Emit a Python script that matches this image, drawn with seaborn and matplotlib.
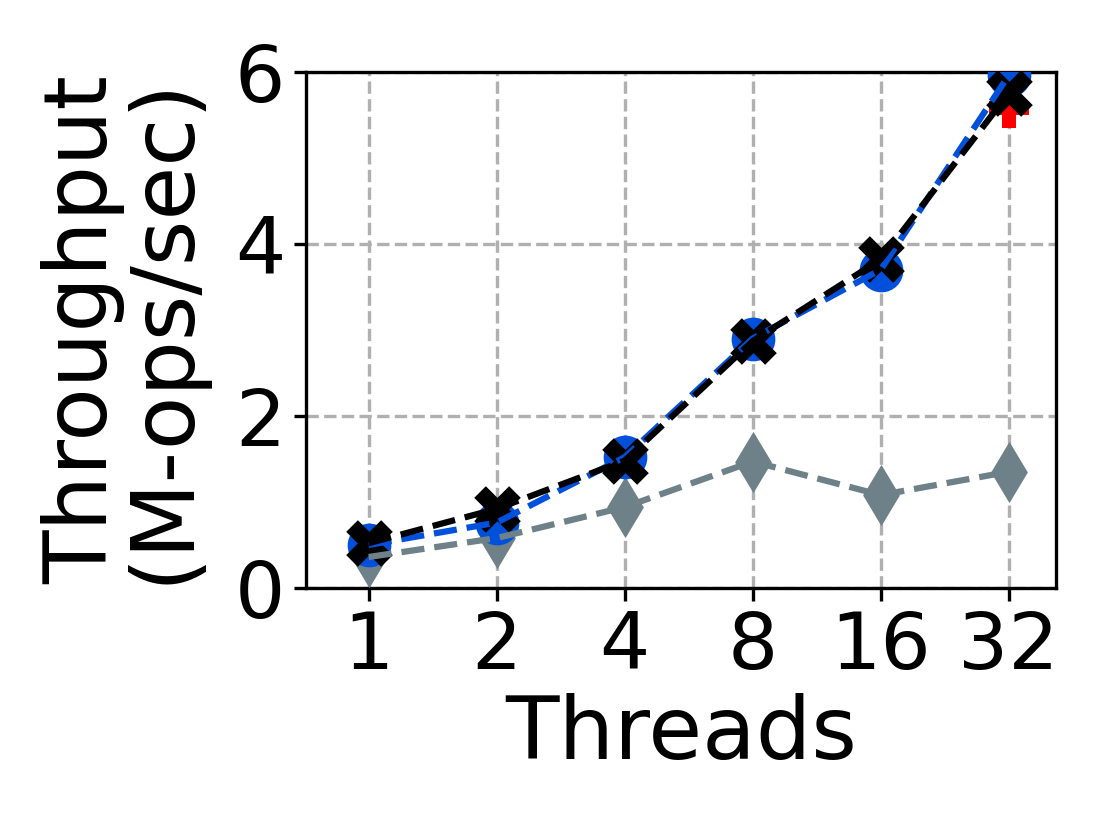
import numpy as np
import pandas as pd
import matplotlib
matplotlib.use("Agg")
import matplotlib.pyplot as plt
import seaborn as sns

threads = [1, 2, 4, 8, 16, 32]
blue_vals = [0.50, 0.76, 1.52, 2.90, 3.70, 5.96]
black_vals = [0.52, 0.92, 1.48, 2.87, 3.82, 5.75]
red_vals = [0.50, 0.76, 1.52, 2.90, 3.70, 5.58]
gray_vals = [0.36, 0.58, 0.94, 1.47, 1.08, 1.35]
yticks = [0, 2, 4, 6]

sns.set_style("white")
plt.rcParams['font.family'] = ['DejaVu Sans']
plt.rcParams['text.color'] = 'black'
plt.rcParams['axes.labelcolor'] = 'black'
plt.rcParams['xtick.color'] = 'black'
plt.rcParams['ytick.color'] = 'black'

pos = np.log2(threads)
series = [
    # name, values, color, marker, marker size (pt^2)
    ("gray", gray_vals, "#6e8088", "d", 108),
    ("red", red_vals, "#ff0000", "P", 95),
    ("blue", blue_vals, "#0050dc", "o", 110),
    ("black", black_vals, "#000000", "X", 125),
]

fig, ax = plt.subplots(figsize=(3.69, 2.767), dpi=300)
fig.subplots_adjust(left=0.2764, right=0.954, top=0.9133, bottom=0.2916)

# markers first, lines on top of them
for name, vals, color, marker, size in series:
    df = pd.DataFrame({"x": pos, "y": vals})
    sns.scatterplot(data=df, x="x", y="y", color=color, marker=marker, s=size,
                    linewidth=0, ax=ax, zorder=3)

# red line sits hidden under the others in the original, so only its markers show
for name in ["blue", "black", "gray"]:
    _, vals, color, _, _ = [s for s in series if s[0] == name][0]
    df = pd.DataFrame({"x": pos, "y": vals})
    sns.lineplot(data=df, x="x", y="y", color=color, linestyle="--", lw=1.5,
                 ax=ax, zorder=4)

ax.set_xlim(-0.49, 5.37)
ax.set_ylim(0, 6)
ax.set_xticks(pos)
ax.set_xticklabels([str(t) for t in threads])
ax.set_yticks(yticks)
ax.tick_params(axis="both", labelsize=19, length=3, width=0.8, pad=2, bottom=True, left=True)
ax.grid(True, linestyle="--", color="#b0b0b0", lw=0.8)
for sp in ax.spines.values():
    sp.set_color("black")
    sp.set_linewidth(0.8)

ax.set_xlabel("Threads", fontsize=21, labelpad=2)
ax.set_ylabel("Throughput\n(M-ops/sec)", fontsize=21, labelpad=7, linespacing=0.95)

fig.savefig("out.png", dpi=300)
